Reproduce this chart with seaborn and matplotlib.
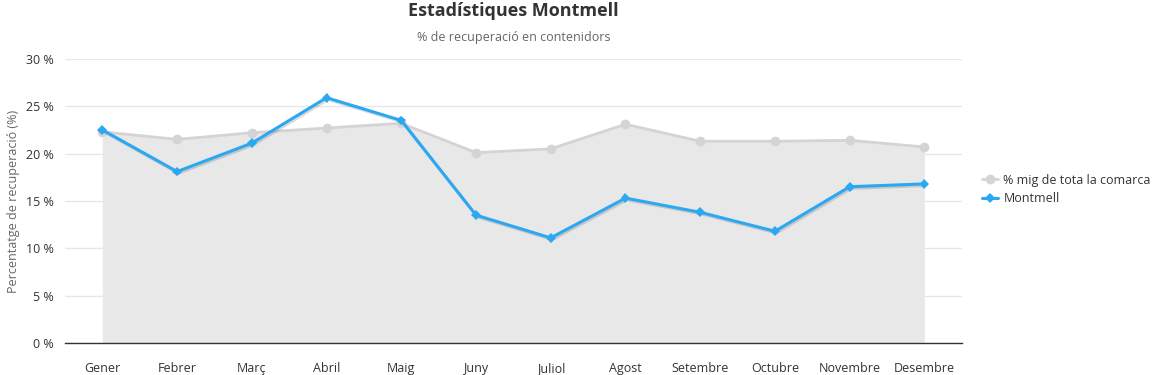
import pandas as pd
import matplotlib
matplotlib.use("Agg")
import matplotlib.pyplot as plt
import matplotlib.patheffects as pe
import seaborn as sns

months = ["Gener", "Febrer", "Març", "Abril", "Maig", "Juny", "Juliol",
          "Agost", "Setembre", "Octubre", "Novembre", "Desembre"]
comarca = [22.3, 21.5, 22.2, 22.7, 23.2, 20.1, 20.5, 23.1, 21.3, 21.3, 21.4, 20.7]
montmell = [22.5, 18.1, 21.1, 25.9, 23.5, 13.5, 11.1, 15.3, 13.8, 11.8, 16.5, 16.8]
yticks = [0, 5, 10, 15, 20, 25, 30]

df = pd.DataFrame({"mes": months, "x": range(len(months)),
                   "comarca": comarca, "montmell": montmell})

sns.set_style("white")
plt.rcParams["font.family"] = ["Open Sans", "DejaVu Sans"]

fig = plt.figure(figsize=(11.56, 3.75), dpi=100)
ax = fig.add_axes([0.0562, 0.0853, 0.7758, 0.7577])

# area for the comarca average
ax.fill_between(df["x"], 0, df["comarca"], color="#e8e8e8", zorder=1, linewidth=0)
sns.lineplot(data=df, x="x", y="comarca", ax=ax, color="#d4d4d4", linewidth=2,
             marker="o", markersize=7, markeredgewidth=0,
             label="% mig de tota la comarca", zorder=2)
sns.lineplot(data=df, x="x", y="montmell", ax=ax, color="#2ba8f2", linewidth=2.2,
             marker="D", markersize=5, markeredgewidth=0, label="Montmell", zorder=3)
ax.lines[-1].set_path_effects([pe.SimpleLineShadow(offset=(1, -1.2), shadow_color="black",
                                                   alpha=0.14), pe.Normal()])

ax.set_xlim(-0.5, len(months) - 0.5)
ax.set_ylim(0, 30)
ax.set_xticks(range(len(months)))
ax.set_xticklabels(months, fontsize=9, color="#333333")
ax.set_yticks(yticks)
ax.set_yticklabels([f"{v} %" for v in yticks], fontsize=9, color="#333333")
ax.tick_params(axis="y", length=0, pad=8)
ax.tick_params(axis="x", length=0, pad=14)
ax.grid(axis="y", color="#e6e6e6", linewidth=1)
ax.set_axisbelow(True)
for s in ["top", "right", "left"]:
    ax.spines[s].set_visible(False)
ax.spines["bottom"].set_color("#333333")
ax.spines["bottom"].set_linewidth(1)
ax.set_xlabel("")
ax.set_ylabel("Percentatge de recuperació (%)", fontsize=9, color="#666666", labelpad=4)

fig.text(0.4444, 0.972, "Estadístiques Montmell", ha="center", va="center",
         fontsize=13, fontweight="bold", color="#333333")
fig.text(0.4444, 0.899, "% de recuperació en contenidors", ha="center", va="center",
         fontsize=9, color="#666666")

leg = ax.legend(loc="center left", bbox_to_anchor=(1.01, 0.54), frameon=False,
                fontsize=9, handlelength=1.3, handletextpad=0.4, labelspacing=0.45)
for t in leg.get_texts():
    t.set_color("#333333")
for h in leg.get_lines():
    h.set_path_effects([])

fig.savefig("out.png", dpi=100, facecolor="white")
